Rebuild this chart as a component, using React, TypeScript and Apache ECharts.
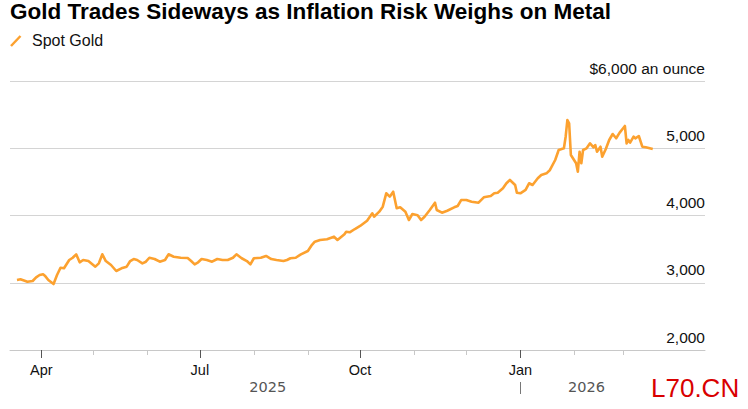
import React, { useEffect, useRef } from "react";
import * as echarts from "echarts";

const TITLE = "Gold Trades Sideways as Inflation Risk Weighs on Metal";
const SERIES_NAME = "Spot Gold";
const ORANGE = "#fca12f";

const AXIS_START = "2025-03-14";
const AXIS_END = "2026-04-17";

const MONTH_TICKS = [
  "2025-04-01", "2025-05-01", "2025-06-01", "2025-07-01", "2025-08-01", "2025-09-01",
  "2025-10-01", "2025-11-01", "2025-12-01", "2026-01-01", "2026-02-01", "2026-03-01",
];
const QUARTER_TICKS = ["2025-04-01", "2025-07-01", "2025-10-01", "2026-01-01"];
const QUARTER_LABELS = ["Apr", "Jul", "Oct", "Jan"];
const YEAR_LABELS = ["2025", "2026"];
const YEAR_BREAK = "2026-01-01";

const Y_TICKS = [2000, 3000, 4000, 5000, 6000];
const Y_TICK_LABELS = ["2,000", "3,000", "4,000", "5,000", "$6,000 an ounce"];

const SPOT_DATES = [
  "2025-03-18", "2025-03-20", "2025-03-24", "2025-03-27", "2025-03-29", "2025-03-31",
  "2025-04-02", "2025-04-03", "2025-04-05", "2025-04-08", "2025-04-10", "2025-04-12",
  "2025-04-14", "2025-04-17", "2025-04-19", "2025-04-21", "2025-04-23", "2025-04-25",
  "2025-04-28", "2025-05-02", "2025-05-04", "2025-05-06", "2025-05-08", "2025-05-11",
  "2025-05-14", "2025-05-17", "2025-05-20", "2025-05-22", "2025-05-24", "2025-05-26",
  "2025-05-29", "2025-05-31", "2025-06-02", "2025-06-05", "2025-06-08", "2025-06-11",
  "2025-06-13", "2025-06-16", "2025-06-20", "2025-06-24", "2025-06-26", "2025-06-28",
  "2025-06-30", "2025-07-02", "2025-07-05", "2025-07-08", "2025-07-11", "2025-07-14",
  "2025-07-17", "2025-07-20", "2025-07-22", "2025-07-25", "2025-07-28", "2025-07-30",
  "2025-08-01", "2025-08-05", "2025-08-08", "2025-08-11", "2025-08-14", "2025-08-18",
  "2025-08-20", "2025-08-22", "2025-08-25", "2025-08-28", "2025-09-01", "2025-09-03",
  "2025-09-05", "2025-09-08", "2025-09-12", "2025-09-16", "2025-09-18", "2025-09-22",
  "2025-09-23", "2025-09-25", "2025-09-28", "2025-10-01", "2025-10-05", "2025-10-08",
  "2025-10-09", "2025-10-12", "2025-10-14", "2025-10-16", "2025-10-18", "2025-10-20",
  "2025-10-22", "2025-10-24", "2025-10-27", "2025-10-29", "2025-10-31", "2025-11-03",
  "2025-11-05", "2025-11-07", "2025-11-10", "2025-11-13", "2025-11-14", "2025-11-17",
  "2025-11-20", "2025-11-24", "2025-11-26", "2025-11-28", "2025-12-01", "2025-12-04",
  "2025-12-08", "2025-12-11", "2025-12-15", "2025-12-17", "2025-12-19", "2025-12-22",
  "2025-12-24", "2025-12-26", "2025-12-29", "2025-12-30", "2026-01-01", "2026-01-04",
  "2026-01-06", "2026-01-08", "2026-01-11", "2026-01-13", "2026-01-16", "2026-01-18",
  "2026-01-21", "2026-01-23", "2026-01-26", "2026-01-27", "2026-01-28", "2026-01-29",
  "2026-01-30", "2026-02-02", "2026-02-03", "2026-02-04", "2026-02-05", "2026-02-06",
  "2026-02-08", "2026-02-10", "2026-02-12", "2026-02-13", "2026-02-14", "2026-02-16",
  "2026-02-17", "2026-02-19", "2026-02-21", "2026-02-23", "2026-02-25", "2026-02-27",
  "2026-03-01", "2026-03-02", "2026-03-03", "2026-03-04", "2026-03-05", "2026-03-07",
  "2026-03-08", "2026-03-10", "2026-03-12", "2026-03-14", "2026-03-18",
];

const SPOT_VALUES = [
  3041, 3051, 3016, 3026, 3081, 3115,
  3126, 3105, 3041, 2981, 3115, 3224,
  3215, 3338, 3372, 3423, 3304, 3338,
  3323, 3239, 3289, 3423, 3323, 3264,
  3175, 3215, 3239, 3323, 3353, 3338,
  3289, 3313, 3372, 3353, 3313, 3338,
  3423, 3387, 3372, 3368, 3323, 3274,
  3304, 3353, 3338, 3313, 3353, 3338,
  3338, 3372, 3423, 3364, 3323, 3274,
  3364, 3372, 3398, 3353, 3338, 3323,
  3338, 3364, 3372, 3423, 3472, 3551,
  3610, 3636, 3646, 3685, 3636, 3720,
  3759, 3750, 3799, 3844, 3923, 4033,
  3982, 4057, 4131, 4330, 4280, 4354,
  4107, 4122, 4057, 3933, 4022, 4003,
  3933, 3982, 4082, 4190, 4082, 4042,
  4071, 4122, 4141, 4230, 4230, 4205,
  4190, 4271, 4290, 4330, 4339, 4404,
  4479, 4528, 4454, 4339, 4330, 4380,
  4479, 4454, 4553, 4602, 4627, 4677,
  4825, 4974, 4999, 5172, 5420, 5371,
  4900, 4776, 4651, 4949, 4776, 4974,
  4999, 5073, 5014, 5048, 4949, 5023,
  4875, 4985, 5123, 5212, 5148, 5232,
  5297, 5331, 5073, 5123, 5083, 5172,
  5148, 5182, 5023, 5014, 4989,
];

const DAY_MS = 86400000;
const toDay = (ms: number) => new Date(ms).toISOString().slice(0, 10);

function buildDays(): string[] {
  const out: string[] = [];
  const end = Date.parse(AXIS_END);
  for (let t = Date.parse(AXIS_START); t <= end; t += DAY_MS) out.push(toDay(t));
  return out;
}

function yearMidDays(): string[] {
  return YEAR_LABELS.map((y) => {
    const ds = SPOT_DATES.filter((d) => d.startsWith(y));
    const a = Date.parse(ds[0]);
    const b = Date.parse(ds[ds.length - 1]);
    return toDay(Math.round((a + b) / 2 / DAY_MS) * DAY_MS);
  });
}

export default function App() {
  const ref = useRef<HTMLDivElement>(null);

  useEffect(() => {
    if (!ref.current) return;
    const chart = echarts.init(ref.current, null, { renderer: "svg" });
    const DAYS = buildDays();
    const YEAR_MIDS = yearMidDays();
    const FONT = '"Liberation Sans", Arial, sans-serif';

    const catBase = {
      type: "category",
      data: DAYS,
      boundaryGap: false,
      position: "bottom",
      gridIndex: 0,
      axisLine: { show: false },
      axisTick: { show: false },
      axisLabel: { show: false },
      splitLine: { show: false },
    };

    chart.setOption({
      animation: false,
      backgroundColor: "#ffffff",
      textStyle: { fontFamily: FONT },
      grid: { left: 10, right: 43, top: 81, bottom: 59, containLabel: false },
      xAxis: [
        {
          type: "time",
          min: Date.parse(AXIS_START),
          max: Date.parse(AXIS_END),
          show: false,
        },
        {
          ...catBase,
          axisLine: { show: true, lineStyle: { color: "#c8c8c8", width: 1 } },
          axisTick: {
            show: true,
            length: 5,
            interval: (_i: number, v: string) => MONTH_TICKS.includes(v),
            lineStyle: { color: "#c8c8c8", width: 1 },
          },
        },
        {
          ...catBase,
          axisTick: {
            show: true,
            length: 8,
            interval: (_i: number, v: string) => QUARTER_TICKS.includes(v),
            lineStyle: { color: "#555555", width: 1 },
          },
          axisLabel: {
            show: true,
            interval: (_i: number, v: string) => QUARTER_TICKS.includes(v),
            formatter: (v: string) => {
              const k = QUARTER_TICKS.indexOf(v);
              return k >= 0 ? QUARTER_LABELS[k] : "";
            },
            margin: 12,
            fontSize: 14.5,
            color: "#111111",
            fontFamily: FONT,
          },
        },
        {
          ...catBase,
          axisLabel: {
            show: true,
            interval: (_i: number, v: string) => YEAR_MIDS.includes(v),
            formatter: (v: string) => {
              const k = YEAR_MIDS.indexOf(v);
              return k >= 0 ? YEAR_LABELS[k] : "";
            },
            margin: 29,
            fontSize: 14.5,
            color: "#555555",
            fontFamily: '"DejaVu Sans", sans-serif',
          },
        },
        {
          ...catBase,
          offset: 32,
          axisTick: {
            show: true,
            length: 12,
            interval: (_i: number, v: string) => v === YEAR_BREAK,
            lineStyle: { color: "#777777", width: 1 },
          },
        },
      ],
      yAxis: {
        type: "value",
        position: "right",
        min: 2000,
        max: 6000,
        interval: 1000,
        axisLine: { show: false },
        axisTick: { show: false },
        splitLine: { show: true, lineStyle: { color: "#d4d4d4", width: 1 } },
        axisLabel: {
          inside: true,
          margin: 0,
          showMinLabel: true,
          showMaxLabel: true,
          verticalAlign: "bottom",
          padding: [0, 0, 5, 0],
          fontSize: 15.5,
          color: "#111111",
          fontFamily: FONT,
          formatter: (v: number) => {
            const k = Y_TICKS.indexOf(v);
            return k >= 0 ? Y_TICK_LABELS[k] : "";
          },
        },
      },
      series: [
        {
          name: SERIES_NAME,
          type: "line",
          xAxisIndex: 0,
          yAxisIndex: 0,
          showSymbol: false,
          symbol: "none",
          smooth: false,
          lineStyle: { color: ORANGE, width: 2.6, join: "round" },
          data: SPOT_DATES.map((d, i) => [Date.parse(d), SPOT_VALUES[i]]),
        },
      ],
      graphic: [
        {
          type: "text",
          x: 10,
          y: 11.5,
          style: {
            text: TITLE,
            fill: "#000000",
            font: `bold 22.5px ${FONT}`,
            verticalAlign: "middle",
            align: "left",
          },
        },
        {
          type: "line",
          shape: { x1: 11, y1: 46, x2: 20.5, y2: 36 },
          style: { stroke: ORANGE, lineWidth: 2.5 },
        },
        {
          type: "text",
          x: 32,
          y: 40.5,
          style: {
            text: SERIES_NAME,
            fill: "#111111",
            font: `16px ${FONT}`,
            verticalAlign: "middle",
            align: "left",
          },
        },
        {
          type: "text",
          x: 651,
          y: 388,
          style: {
            text: "L70.CN",
            fill: "#d90000",
            font: `26px ${FONT}`,
            verticalAlign: "middle",
            align: "left",
          },
        },
      ],
    });

    return () => chart.dispose();
  }, []);

  return (
    <div
      ref={ref}
      style={{ position: "fixed", left: 0, top: 0, width: 748, height: 409 }}
    />
  );
}
